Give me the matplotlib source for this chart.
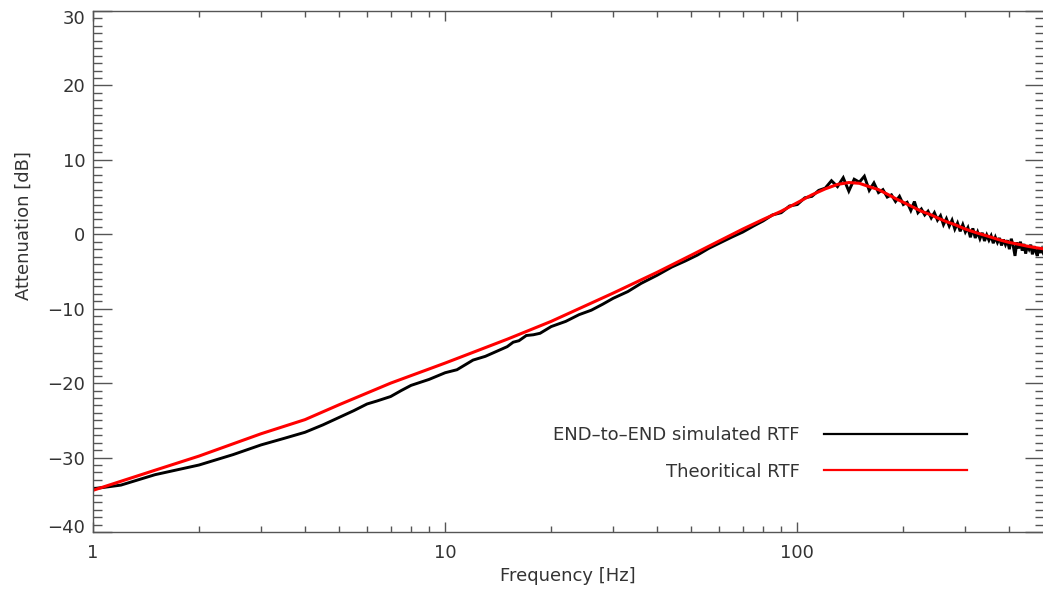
import numpy as np
import matplotlib
matplotlib.use("Agg")
import matplotlib.pyplot as plt
from matplotlib.ticker import FixedLocator, FixedFormatter, MultipleLocator
from matplotlib.transforms import ScaledTranslation

# ---------------- data ----------------
# Theoretical RTF (red)
theo_freq = [1, 1.5, 2, 3, 4, 5, 7, 10, 15, 20, 30, 40, 50, 60, 70, 80, 90, 100,
             110, 120, 130, 140, 150, 160, 170, 180, 190, 200, 212, 225, 240, 250,
             265, 280, 300, 325, 350, 375, 400, 425, 450, 475, 500]
theo_db = [-34.4, -31.7, -29.8, -26.8, -24.9, -22.9, -20.0, -17.3, -14.1, -11.7,
           -7.9, -5.1, -2.8, -0.9, 0.7, 2.0, 3.1, 4.25, 5.3, 6.1, 6.7, 6.95, 6.85,
           6.4, 6.0, 5.4, 4.8, 4.3, 3.7, 3.1, 2.6, 2.2, 1.7, 1.3, 0.7, 0.15, -0.3,
           -0.75, -1.1, -1.35, -1.6, -1.8, -1.95]

# END-to-END simulated RTF (black), smooth low-frequency part
sim_freq_low = [1, 1.2, 1.5, 2, 2.5, 3, 3.5, 4, 4.5, 5, 5.5, 6, 6.4, 7, 7.5, 8, 9,
                10, 10.8, 12, 13, 15, 15.6, 16.2, 17, 17.8, 18.6, 20, 22, 24, 26,
                28, 30, 33, 36, 40, 44, 48, 52, 56, 60, 65, 70, 75]
sim_db_low = [-34.2, -33.7, -32.3, -31.0, -29.6, -28.3, -27.4, -26.6, -25.6, -24.6,
              -23.7, -22.8, -22.4, -21.8, -21.0, -20.3, -19.5, -18.6, -18.2, -16.9,
              -16.4, -15.1, -14.5, -14.3, -13.6, -13.5, -13.3, -12.4, -11.7, -10.8,
              -10.2, -9.4, -8.6, -7.7, -6.6, -5.5, -4.4, -3.6, -2.8, -1.9, -1.2,
              -0.4, 0.3, 1.1]
# noisy high-frequency part, 80..500 Hz every 5 Hz
sim_freq_high = list(range(80, 505, 5))
sim_db_high = [1.8, 2.6, 2.9, 3.8, 4.0, 4.9, 5.1, 5.9, 6.2, 7.2, 6.4, 7.6, 5.8, 7.4,
               7.0, 7.8, 5.9, 6.9, 5.6, 6.0, 5.0, 5.3, 4.4, 5.1, 4.0, 4.3, 3.2, 4.4,
               2.9, 3.4, 2.6, 3.1, 2.2, 2.9, 1.9, 2.5, 1.3, 2.1, 1.1, 1.9, 0.7, 1.5,
               0.4, 1.3, 0.3, 0.9, -0.4, 0.8, -0.5, 0.3, -0.6, 0.2, -0.9, -0.1, -0.8,
               -0.2, -1.2, -0.4, -1.1, -0.5, -1.5, -0.7, -1.4, -0.8, -2.0, -0.6, -1.5,
               -2.9, -1.1, -1.9, -1.0, -2.2, -1.3, -2.6, -1.5, -2.0, -1.4, -2.7, -1.6,
               -2.3, -2.9, -1.8, -2.5, -2.0, -2.6]

sim_freq = sim_freq_low + sim_freq_high
sim_db = sim_db_low + sim_db_high

x_major = [1, 10, 100]
x_major_labels = ["1", "10", "100"]
x_minor = [2, 3, 4, 5, 6, 7, 8, 9, 20, 30, 40, 50, 60, 70, 80, 90, 200, 300, 400, 500]
y_major = [-40, -30, -20, -10, 0, 10, 20, 30]

label_sim = "END\u2013to\u2013END simulated RTF"
label_theo = "Theoritical RTF"

# ---------------- figure ----------------
W, H = 1043, 590
fig = plt.figure(figsize=(W / 100, H / 100), dpi=100)
ax = fig.add_axes([93 / W, 58 / H, 950.5 / W, 521 / H])

txt_color = "#333333"
ax_color = "#555555"
fs = 13

ax.plot(sim_freq, sim_db, color="black", lw=2.1, label=label_sim, solid_joinstyle="miter")
ax.plot(theo_freq, theo_db, color="#ff0000", lw=2.2, label=label_theo)

ax.set_xscale("log")
ax.set_xlim(1, 500)
ax.set_ylim(-40, 30)

ax.xaxis.set_major_locator(FixedLocator(x_major))
ax.xaxis.set_major_formatter(FixedFormatter(x_major_labels))
ax.xaxis.set_minor_locator(FixedLocator(x_minor))
ax.xaxis.set_minor_formatter(FixedFormatter([""] * len(x_minor)))
ax.yaxis.set_major_locator(FixedLocator(y_major))
ax.yaxis.set_minor_locator(MultipleLocator(1))

for s in ax.spines.values():
    s.set_color(ax_color)
    s.set_linewidth(1.0)

ax.tick_params(axis="x", which="major", direction="in", length=7.5, width=1.0,
               color=ax_color, top=True, bottom=True, labelsize=fs,
               labelcolor=txt_color, pad=9)
ax.tick_params(axis="x", which="minor", direction="in", length=4.0, width=1.0,
               color=ax_color, top=True, bottom=True)
ax.tick_params(axis="y", which="major", direction="in", length=13.5, width=1.0,
               color=ax_color, left=True, right=True, labelsize=fs,
               labelcolor=txt_color, pad=5.5)
ax.tick_params(axis="y", which="minor", direction="in", length=6.5, width=1.0,
               color=ax_color, left=True, right=True)

# end labels of the y axis sit slightly inside, as in the original
yticks = ax.yaxis.get_major_ticks()
yticks[0].label1.set_transform(yticks[0].label1.get_transform()
                               + ScaledTranslation(0, 6 / 100, fig.dpi_scale_trans))
yticks[-1].label1.set_transform(yticks[-1].label1.get_transform()
                                + ScaledTranslation(0, -5.5 / 100, fig.dpi_scale_trans))

ax.set_xlabel("Frequency [Hz]", fontsize=fs, color=txt_color)
ax.xaxis.set_label_coords(0.5, -(567 - 532) / 521)
ax.set_ylabel("Attenuation [dB]", fontsize=fs, color=txt_color)
ax.yaxis.set_label_coords(-(93 - 33) / 950.5, (532 - 226) / 521)

leg = ax.legend(loc="upper right", bbox_to_anchor=(967 / W, 1 - 426 / H),
                bbox_transform=fig.transFigure, frameon=False, markerfirst=False,
                fontsize=fs, handlelength=7.9, handletextpad=1.38,
                labelspacing=1.03, borderpad=0, borderaxespad=0)
for t in leg.get_texts():
    t.set_color(txt_color)
for l in leg.get_lines():
    l.set_linewidth(1.6)

fig.savefig("out.png", dpi=100)
